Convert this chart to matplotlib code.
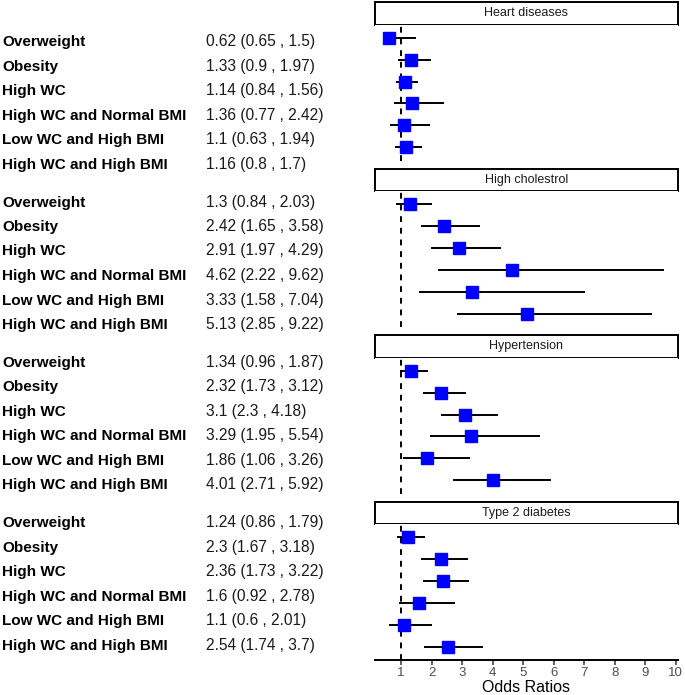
import numpy as np
import matplotlib
matplotlib.use("Agg")
import matplotlib.pyplot as plt

plt.rcParams["font.family"] = ["Liberation Sans", "DejaVu Sans"]

# datos del forest plot
enfermedades = ["Heart diseases", "High cholestrol", "Hypertension", "Type 2 diabetes"]
grupos = ["Overweight", "Obesity", "High WC", "High WC and Normal BMI",
          "Low WC and High BMI", "High WC and High BMI"]

or_heart = [0.62, 1.33, 1.14, 1.36, 1.1, 1.16]
lo_heart = [0.65, 0.9, 0.84, 0.77, 0.63, 0.8]
hi_heart = [1.5, 1.97, 1.56, 2.42, 1.94, 1.7]

or_chol = [1.3, 2.42, 2.91, 4.62, 3.33, 5.13]
lo_chol = [0.84, 1.65, 1.97, 2.22, 1.58, 2.85]
hi_chol = [2.03, 3.58, 4.29, 9.62, 7.04, 9.22]

or_hyp = [1.34, 2.32, 3.1, 3.29, 1.86, 4.01]
lo_hyp = [0.96, 1.73, 2.3, 1.95, 1.06, 2.71]
hi_hyp = [1.87, 3.12, 4.18, 5.54, 3.26, 5.92]

or_t2d = [1.24, 2.3, 2.36, 1.6, 1.1, 2.54]
lo_t2d = [0.86, 1.67, 1.73, 0.92, 0.6, 1.74]
hi_t2d = [1.79, 3.18, 3.22, 2.78, 2.01, 3.7]

ors = [or_heart, or_chol, or_hyp, or_t2d]
los = [lo_heart, lo_chol, lo_hyp, lo_t2d]
his = [hi_heart, hi_chol, hi_hyp, hi_t2d]

ticks_x = [1, 2, 3, 4, 5, 6, 7, 8, 9, 10]

W, H = 685, 695
fig = plt.figure(figsize=(W / 100, H / 100), dpi=100)

def caja(x0, y0, w, h):
    # coordenadas en pixeles desde arriba -> fraccion de figura
    return [x0 / W, 1 - (y0 + h) / H, w / W, h / H]

# limites del eje x con 5% de margen (como ggplot)
todos = np.concatenate([np.ravel(ors), np.ravel(los), np.ravel(his)])
xmin, xmax = todos.min(), todos.max()
pad = 0.05 * (xmax - xmin)
xlim = (xmin - pad, xmax + pad)

px0, pw = 375, 303
strip_h, panel_h, bloque = 22.5, 136, 166.5

for i, enf in enumerate(enfermedades):
    top = 2 + bloque * i
    # tira con el titulo
    sax = fig.add_axes(caja(px0, top, pw, strip_h))
    sax.set_xticks([])
    sax.set_yticks([])
    for s in sax.spines.values():
        s.set_linewidth(1.4)
        s.set_color("black")
    sax.text(0.5, 0.5, enf, ha="center", va="center", fontsize=9, color="#1A1A1A")

    ax = fig.add_axes(caja(px0, top + strip_h, pw, panel_h))
    y = np.arange(1, len(grupos) + 1)
    ax.axvline(1, color="black", linestyle=(0, (3, 3)), linewidth=1.4)
    ax.hlines(y, los[i], his[i], color="black", linewidth=1.4)
    ax.plot(ors[i], y, "s", color="#0000FF", markersize=8.3, linestyle="none")
    ax.set_xlim(xlim)
    ax.set_ylim(6.6, 0.4)
    ax.set_yticks([])
    for lado in ["left", "right", "top"]:
        ax.spines[lado].set_visible(False)
    if i < len(enfermedades) - 1:
        ax.spines["bottom"].set_visible(False)
        ax.set_xticks([])
    else:
        ax.spines["bottom"].set_linewidth(1.4)
        ax.set_xticks(ticks_x)
        ax.tick_params(axis="x", length=3.5, width=1.1, color="#333333",
                       labelsize=9.5, labelcolor="#4D4D4D", pad=1.5)
        ax.set_xlabel("Odds Ratios", fontsize=11.5, labelpad=1)

    # tabla de texto a la izquierda
    for j, g in enumerate(grupos):
        yb = 40.7 + 160.3 * i + 24.5 * j + 5.5
        fig.text(2 / W, 1 - yb / H, g, fontsize=11, fontweight="bold",
                 va="baseline", ha="left")
        txt = f"{ors[i][j]} ({los[i][j]} , {his[i][j]})"
        fig.text(206 / W, 1 - yb / H, txt, fontsize=11.2, va="baseline",
                 ha="left", color="#1A1A1A")

fig.savefig("out.png", dpi=100)
